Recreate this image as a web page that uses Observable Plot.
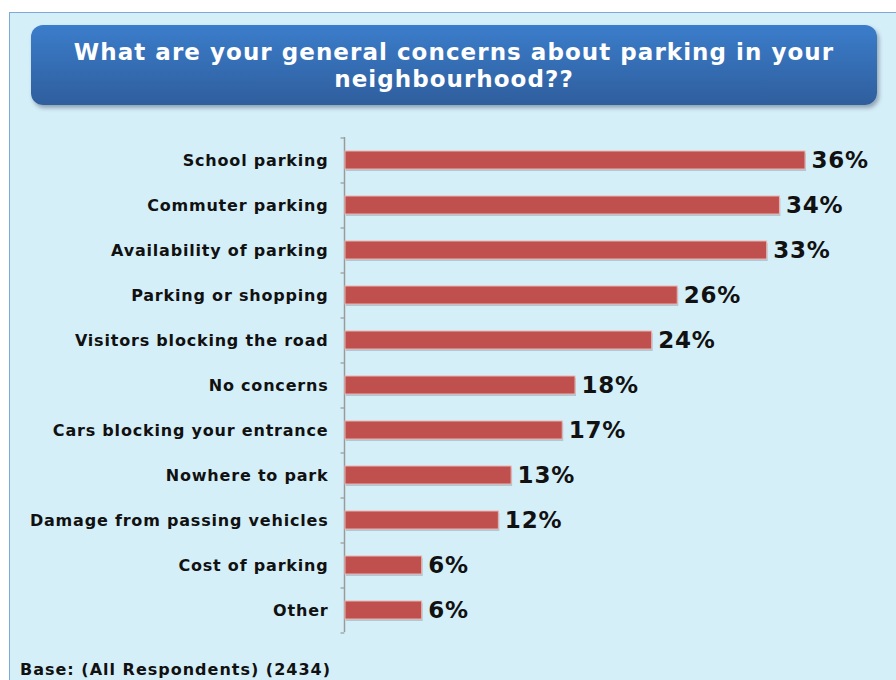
<!DOCTYPE html>
<html>
<head>
<meta charset="utf-8">
<script src="https://cdn.jsdelivr.net/npm/d3@7"></script>
<script src="https://cdn.jsdelivr.net/npm/@observablehq/plot@0.6"></script>
<style>
  html, body { margin: 0; padding: 0; width: 896px; height: 680px; overflow: hidden; background: #ffffff; font-family: "DejaVu Sans", Verdana, sans-serif; }
  #panel { position: absolute; left: 9px; top: 12px; width: 900px; height: 700px; background: #d5eff9; border: 1.5px solid #7ea9d9; box-sizing: border-box; }
  #title { position: absolute; left: 31px; top: 25px; width: 846px; height: 80px; border-radius: 12px;
           background: linear-gradient(#3b7dcb, #2f5e9d); box-shadow: 2px 3px 4px rgba(60,70,90,0.45);
           color: #fff; font-weight: bold; font-size: 23px; letter-spacing: 1.05px; line-height: 27px; text-align: center; box-sizing: border-box; padding-top: 14px; }
  #chart { position: absolute; left: 0; top: 120px; }
  #chart text { letter-spacing: 0.8px; }
  #base { position: absolute; left: 20px; top: 660px; font-weight: bold; font-size: 16px; letter-spacing: 1px; color: #111; }
</style>
</head>
<body>
<div id="panel"></div>
<div id="chart"></div>
<div id="title">What are your general concerns about parking in your<br>neighbourhood??</div>
<div id="base">Base: (All Respondents) (2434)</div>
<script>
const categories = [
  "School parking",
  "Commuter parking",
  "Availability of parking",
  "Parking or shopping",
  "Visitors blocking the road",
  "No concerns",
  "Cars blocking your entrance",
  "Nowhere to park",
  "Damage from passing vehicles",
  "Cost of parking",
  "Other"
];
const values = [36, 34, 33, 26, 24, 18, 17, 13, 12, 6, 6];
const valueLabels = ["36%", "34%", "33%", "26%", "24%", "18%", "17%", "13%", "12%", "6%", "6%"];

const data = categories.map((c, i) => ({ category: c, value: values[i], label: valueLabels[i] }));
const lastCat = categories[categories.length - 1];

const chart = Plot.plot({
  width: 896,
  height: 530,
  marginLeft: 345,
  marginRight: 91,
  marginTop: 17,
  marginBottom: 18,
  style: { background: "transparent", fontFamily: "DejaVu Sans, Verdana, sans-serif", color: "#111" },
  x: { domain: [0, 36], axis: null },
  y: { domain: categories, paddingInner: 0.6, paddingOuter: 0.3, label: null, tickSize: 0 },
  marks: [
    Plot.axisY({ tickSize: 0, tickPadding: 17, fontSize: 16, fontWeight: "bold", fill: "#111", label: null }),
    // axis tick marks at category boundaries
    Plot.ruleY(categories, { y: d => d, dy: -22.5, x1: -0.35, x2: -0.05, stroke: "#9a9a9a", strokeWidth: 1.2, strokeOpacity: 1 }),
    Plot.ruleY([lastCat], { y: d => d, dy: 22.5, x1: -0.35, x2: -0.05, stroke: "#9a9a9a", strokeWidth: 1.2, strokeOpacity: 1 }),
    Plot.ruleX([0], { dx: -1, stroke: "#9a9a9a", strokeWidth: 1.5, strokeOpacity: 1 }),
    // bar shadow
    Plot.barX(data, { x: "value", y: "category", dx: 1, dy: 2, fill: "#7f9aa8", fillOpacity: 0.45 }),
    // bars
    Plot.barX(data, { x: "value", y: "category", fill: "#c0504d", stroke: "#ecb3b0", strokeWidth: 1 }),
    Plot.text(data, { x: "value", y: "category", text: "label", dx: 6, textAnchor: "start", fontSize: 23, fontWeight: "bold", fill: "#111" })
  ]
});
document.getElementById("chart").appendChild(chart);
</script>
</body>
</html>
